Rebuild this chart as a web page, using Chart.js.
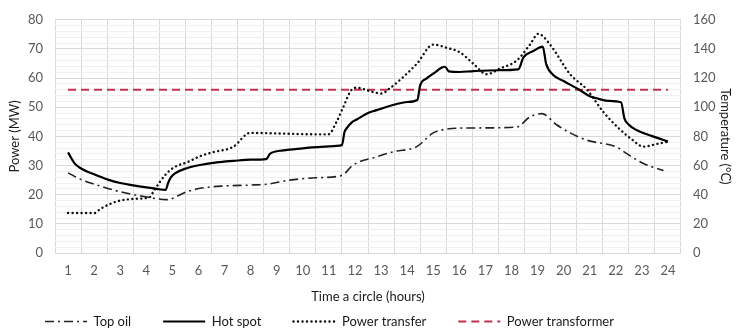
<!DOCTYPE html>
<html>
<head>
<meta charset="utf-8">
<script src="https://cdn.jsdelivr.net/npm/chart.js@4"></script>
<style>
  html, body { margin: 0; padding: 0; background: #fff; }
  #wrap { width: 737px; height: 329px; }
</style>
</head>
<body>
<div id="wrap"><canvas id="myChart"></canvas></div>
<script>
// x axis tick labels (hours)
const hourLabels = [1, 2, 3, 4, 5, 6, 7, 8, 9, 10, 11, 12, 13, 14, 15, 16, 17, 18, 19, 20, 21, 22, 23, 24];

// Top oil temperature (degC, right axis)
const topOilHours = [1, 1.5, 2.22, 3, 4.02, 4.78, 5.55, 6.06, 7, 8, 8.62, 9.5, 10.5, 11.49, 11.93, 12.83, 13.5, 14.37, 15, 15.52, 16.54, 18.2, 18.71, 19.16, 19.73, 20.25, 20.89, 22.04, 22.42, 23.06, 23.83];
const topOilTemp = [55, 50.4, 46, 42, 38.4, 36.6, 42, 44.4, 46, 46.6, 47.2, 50, 51.6, 53.2, 60.4, 66, 69.6, 73, 82.4, 85, 85.8, 86.4, 93.4, 95.6, 88, 82.4, 77.4, 72.6, 68.2, 61.4, 56.6];

// Hot spot temperature (degC, right axis)
const hotSpotHours = [1, 1.25, 1.5, 2, 2.5, 3, 3.5, 4, 4.4, 4.74, 4.84, 4.95, 5.1, 5.55, 6.06, 6.7, 7.34, 8, 8.6, 8.74, 9.25, 10, 10.53, 11, 11.5, 11.6, 11.7, 11.9, 12.07, 12.5, 12.83, 13.2, 13.6, 14, 14.39, 14.5, 14.75, 15, 15.33, 15.45, 15.6, 16, 16.54, 17.5, 18.26, 18.46, 18.84, 19.2, 19.33, 19.6, 20, 20.6, 21, 21.26, 21.7, 22.2, 22.33, 22.5, 22.77, 23.4, 24];
const hotSpotTemp = [69, 61.5, 58, 54, 50.5, 48, 46.4, 45, 44, 43.3, 48.2, 52, 54.6, 58.2, 60.4, 62.2, 63.2, 64, 64.4, 68, 70.4, 71.8, 72.6, 73.2, 74, 83, 86, 90, 91.6, 96, 98, 100.2, 102.2, 103.6, 105, 115, 119.8, 123, 127.2, 127.8, 124.6, 124.2, 124.8, 125.4, 126, 134.2, 138.6, 141.6, 129.8, 122.2, 118, 112, 107.6, 106.2, 104.4, 103.4, 92.4, 88, 84.6, 80.2, 76.4];

// Power transfer (MW, left axis)
const transferHours = [1, 2.03, 2.22, 2.61, 3, 3.63, 4.14, 4.27, 4.53, 4.72, 5.03, 5.61, 6.06, 6.57, 7.33, 7.98, 9.13, 10.6, 10.98, 11.3, 11.55, 11.88, 12.07, 12.58, 13.03, 13.28, 13.73, 14.37, 15, 15.52, 16.03, 16.54, 17.05, 17.56, 18.2, 18.71, 19.03, 19.48, 20.25, 20.89, 21.52, 22.1, 22.61, 23.06, 23.57, 24];
const transferPower = [13.7, 13.7, 15, 16.8, 18, 18.6, 19.2, 21, 24.5, 26.7, 29.2, 31.3, 33.2, 34.6, 36.4, 41.2, 41, 40.7, 40.7, 45.1, 50, 56.1, 56.7, 55.5, 54.7, 56.1, 59.4, 64.9, 71.5, 70.4, 68.8, 64.9, 61.3, 63.3, 66, 71.5, 75.2, 71.5, 61.3, 56.1, 48.4, 42.9, 39, 36.5, 37.4, 38.2];

// Power transformer rating (MW, left axis)
const transformerHours = [1, 24];
const transformerPower = [56, 56];

const toPoints = (xs, ys) => xs.map((x, i) => ({ x: x, y: ys[i] }));

Chart.defaults.font.family = 'Lato, "Open Sans", sans-serif';
Chart.defaults.color = '#595959';

// legend sits lower/left in the original, move it after layout
const legendNudge = {
  id: 'legendNudge',
  afterLayout(chart) {
    chart.legend.top -= 24;
    chart.legend.bottom = chart.height;
    chart.legend.right -= 78;
  }
};

const ctx = document.getElementById('myChart');

new Chart(ctx, {
  type: 'line',
  data: {
    datasets: [{
      label: 'Top oil',
      data: toPoints(topOilHours, topOilTemp),
      yAxisID: 'y1',
      borderColor: '#222',
      borderWidth: 1.6,
      borderDash: [9, 4, 2, 4],
      pointStyle: 'line',
      pointRadius: 0,
      cubicInterpolationMode: 'monotone'
    }, {
      label: 'Hot spot',
      data: toPoints(hotSpotHours, hotSpotTemp),
      yAxisID: 'y1',
      borderColor: '#000',
      borderWidth: 2.2,
      pointStyle: 'line',
      pointRadius: 0,
      cubicInterpolationMode: 'monotone'
    }, {
      label: 'Power transfer',
      data: toPoints(transferHours, transferPower),
      yAxisID: 'y',
      borderColor: '#111',
      borderWidth: 2.4,
      borderDash: [0.1, 4.4],
      borderCapStyle: 'round',
      pointStyle: 'line',
      pointRadius: 0,
      cubicInterpolationMode: 'monotone'
    }, {
      label: 'Power transformer',
      data: toPoints(transformerHours, transformerPower),
      yAxisID: 'y',
      borderColor: '#c0304f',
      borderWidth: 2,
      borderDash: [8, 5],
      pointStyle: 'line',
      pointRadius: 0
    }]
  },
  options: {
    responsive: true,
    maintainAspectRatio: false,
    animation: false,
    layout: {
      padding: { left: 0, right: 0, top: 3, bottom: 0 }
    },
    plugins: {
      legend: {
        position: 'bottom',
        maxHeight: 22,
        labels: {
          usePointStyle: true,
          pointStyleWidth: 42,
          padding: 32,
          color: '#1a1a1a',
          font: { size: 13 },
          generateLabels: (chart) => {
            const items = Chart.defaults.plugins.legend.labels.generateLabels(chart);
            items.forEach((item) => {
              const ds = chart.data.datasets[item.datasetIndex];
              item.lineDash = ds.borderDash || [];
              item.lineCap = ds.borderCapStyle || 'butt';
              item.lineWidth = ds.borderWidth;
              item.strokeStyle = ds.borderColor;
            });
            return items;
          }
        }
      },
      tooltip: { enabled: false }
    },
    scales: {
      x: {
        type: 'linear',
        min: 0.5,
        max: 24.5,
        afterBuildTicks: (scale) => {
          scale.ticks = hourLabels.map(v => ({ value: v }));
        },
        afterFit: (scale) => { scale.height = 54; },
        grid: { offset: true, color: '#d9d9d9', drawTicks: false },
        border: { display: false },
        ticks: {
          autoSkip: false,
          maxRotation: 0,
          padding: 10,
          font: { size: 13 },
          callback: (v) => String(v)
        },
        title: {
          display: true,
          text: 'Time a circle (hours)',
          color: '#1a1a1a',
          font: { size: 13 },
          padding: { top: 2, bottom: 2 }
        }
      },
      y: {
        position: 'left',
        min: 0,
        max: 80,
        afterFit: (scale) => { scale.width = 55; },
        border: { display: false },
        grid: {
          drawTicks: false,
          color: (c) => c.tick.value % 10 === 0 ? '#d9d9d9' : '#efefef'
        },
        ticks: {
          stepSize: 2,
          autoSkip: false,
          padding: 12,
          font: { size: 13 },
          callback: (v) => v % 10 === 0 ? String(v) : ''
        },
        title: {
          display: true,
          text: 'Power (MW)',
          color: '#1a1a1a',
          font: { size: 13 },
          padding: { top: 7, bottom: 2 }
        }
      },
      y1: {
        position: 'right',
        min: 0,
        max: 160,
        afterFit: (scale) => { scale.width = 56; },
        border: { display: false },
        grid: { display: false, drawTicks: false },
        ticks: {
          stepSize: 20,
          padding: 12,
          font: { size: 13 }
        },
        title: {
          display: true,
          text: 'Temperature (\u00B0C)',
          color: '#1a1a1a',
          font: { size: 13 },
          padding: { top: 4, bottom: 2 }
        }
      }
    }
  },
  plugins: [legendNudge]
});
</script>
</body>
</html>
